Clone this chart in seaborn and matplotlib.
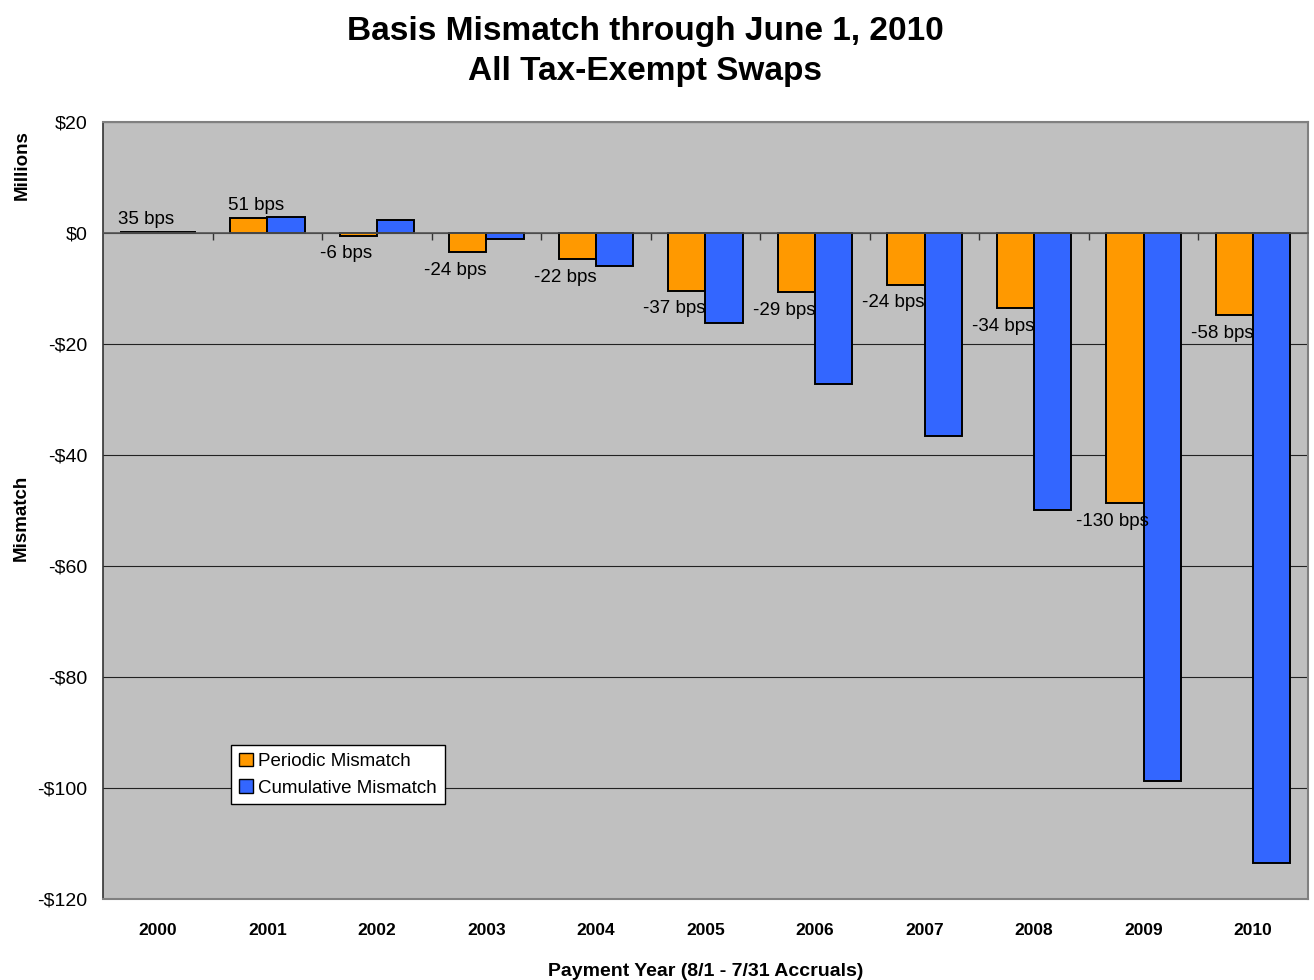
import matplotlib
matplotlib.use("Agg")
import matplotlib.pyplot as plt
import seaborn as sns
import pandas as pd
from matplotlib.patches import Patch

# chart data (millions of dollars)
years = ["2000", "2001", "2002", "2003", "2004", "2005", "2006", "2007", "2008", "2009", "2010"]
periodic = [0.2, 2.7, -0.5, -3.5, -4.7, -10.4, -10.7, -9.3, -13.5, -48.7, -14.8]
cumulative = [0.2, 2.9, 2.4, -1.1, -5.9, -16.3, -27.2, -36.6, -49.9, -98.7, -113.6]
bps_labels = ["35 bps", "51 bps", "-6 bps", "-24 bps", "-22 bps", "-37 bps",
              "-29 bps", "-24 bps", "-34 bps", "-130 bps", "-58 bps"]
series_names = ["Periodic Mismatch", "Cumulative Mismatch"]
y_ticks = [20, 0, -20, -40, -60, -80, -100, -120]

orange = "#FF9900"
blue = "#3366FF"

sns.set_theme(style="white")
plt.rcParams["font.family"] = ["Liberation Sans", "DejaVu Sans"]
plt.rcParams["axes.unicode_minus"] = False
for key in ["text.color", "axes.labelcolor", "xtick.color", "ytick.color"]:
    plt.rcParams[key] = "black"

df = pd.DataFrame({
    "year": years * 2,
    "value": periodic + cumulative,
    "series": [series_names[0]] * len(years) + [series_names[1]] * len(years),
})

fig = plt.figure(figsize=(13.14, 9.8), dpi=100)
ax = fig.add_axes([0.0784, 0.0827, 0.917, 0.7928])

sns.barplot(data=df, x="year", y="value", hue="series", palette=[orange, blue],
            width=0.68, edgecolor="black", linewidth=1.4, saturation=1,
            ax=ax, legend=False)

ax.set_facecolor("#C0C0C0")
ax.set_ylim(-120, 20)
ax.set_xlim(-0.5, len(years) - 0.5)
ax.set_yticks(y_ticks)
ax.set_yticklabels([f"${v}" if v >= 0 else f"-${abs(v)}" for v in y_ticks], fontsize=14)
ax.set_xticks(range(len(years)))
ax.set_xticklabels(years, fontsize=12.5, fontweight="bold")
ax.tick_params(axis="x", length=0, pad=17)
ax.tick_params(axis="y", length=5, width=1, color="black", direction="out", pad=6)
ax.yaxis.grid(True, color="#222222", linewidth=0.8)
ax.set_axisbelow(True)
ax.set_xlabel("Payment Year (8/1 - 7/31 Accruals)", fontsize=14, fontweight="bold", labelpad=18)
ax.set_ylabel("")

for side in ["top", "right", "bottom"]:
    ax.spines[side].set_color("#808080")
    ax.spines[side].set_linewidth(1.5)
ax.spines["left"].set_color("#333333")
ax.spines["left"].set_linewidth(1.2)

# zero line with category-boundary ticks
ax2 = ax.twiny()
ax2.set_xlim(ax.get_xlim())
ax2.spines["top"].set_position(("data", 0))
ax2.spines["top"].set_color("#555555")
ax2.spines["top"].set_linewidth(1.2)
for side in ["left", "right", "bottom"]:
    ax2.spines[side].set_visible(False)
ax2.set_xticks([i + 0.5 for i in range(len(years) - 1)])
ax2.set_xticklabels([])
ax2.tick_params(axis="x", direction="in", length=5, width=1, color="#333333")
ax2.grid(False)

# bps labels on periodic bars
for i, (v, lab) in enumerate(zip(periodic, bps_labels)):
    if v >= 0:
        ax.annotate(lab, (i - 0.17, v), xytext=(5, 3), textcoords="offset points",
                    ha="center", va="bottom", fontsize=13.5)
    else:
        ax.annotate(lab, (i - 0.17, v), xytext=(-9, -7), textcoords="offset points",
                    ha="center", va="top", fontsize=13.5)

handles = [Patch(facecolor=orange, edgecolor="black", linewidth=1),
           Patch(facecolor=blue, edgecolor="black", linewidth=1)]
leg = ax.legend(handles, series_names, loc="center", bbox_to_anchor=(0.195, 0.16),
                fontsize=13.5, frameon=True, fancybox=False, framealpha=1,
                edgecolor="black", handlelength=0.75, handleheight=0.75,
                handletextpad=0.3, labelspacing=0.5, borderpad=0.4)
leg.get_frame().set_linewidth(1)

fig.text(0.491, 0.984, "Basis Mismatch through June 1, 2010\nAll Tax-Exempt Swaps",
         ha="center", va="top", fontsize=24, fontweight="bold", linespacing=1.38)
fig.text(0.016, 0.472, "Mismatch", rotation=90, ha="center", va="center",
         fontsize=13.5, fontweight="bold")
fig.text(0.017, 0.832, "Millions", rotation=90, ha="center", va="center",
         fontsize=13.5, fontweight="bold")

fig.savefig("out.png", dpi=100)
